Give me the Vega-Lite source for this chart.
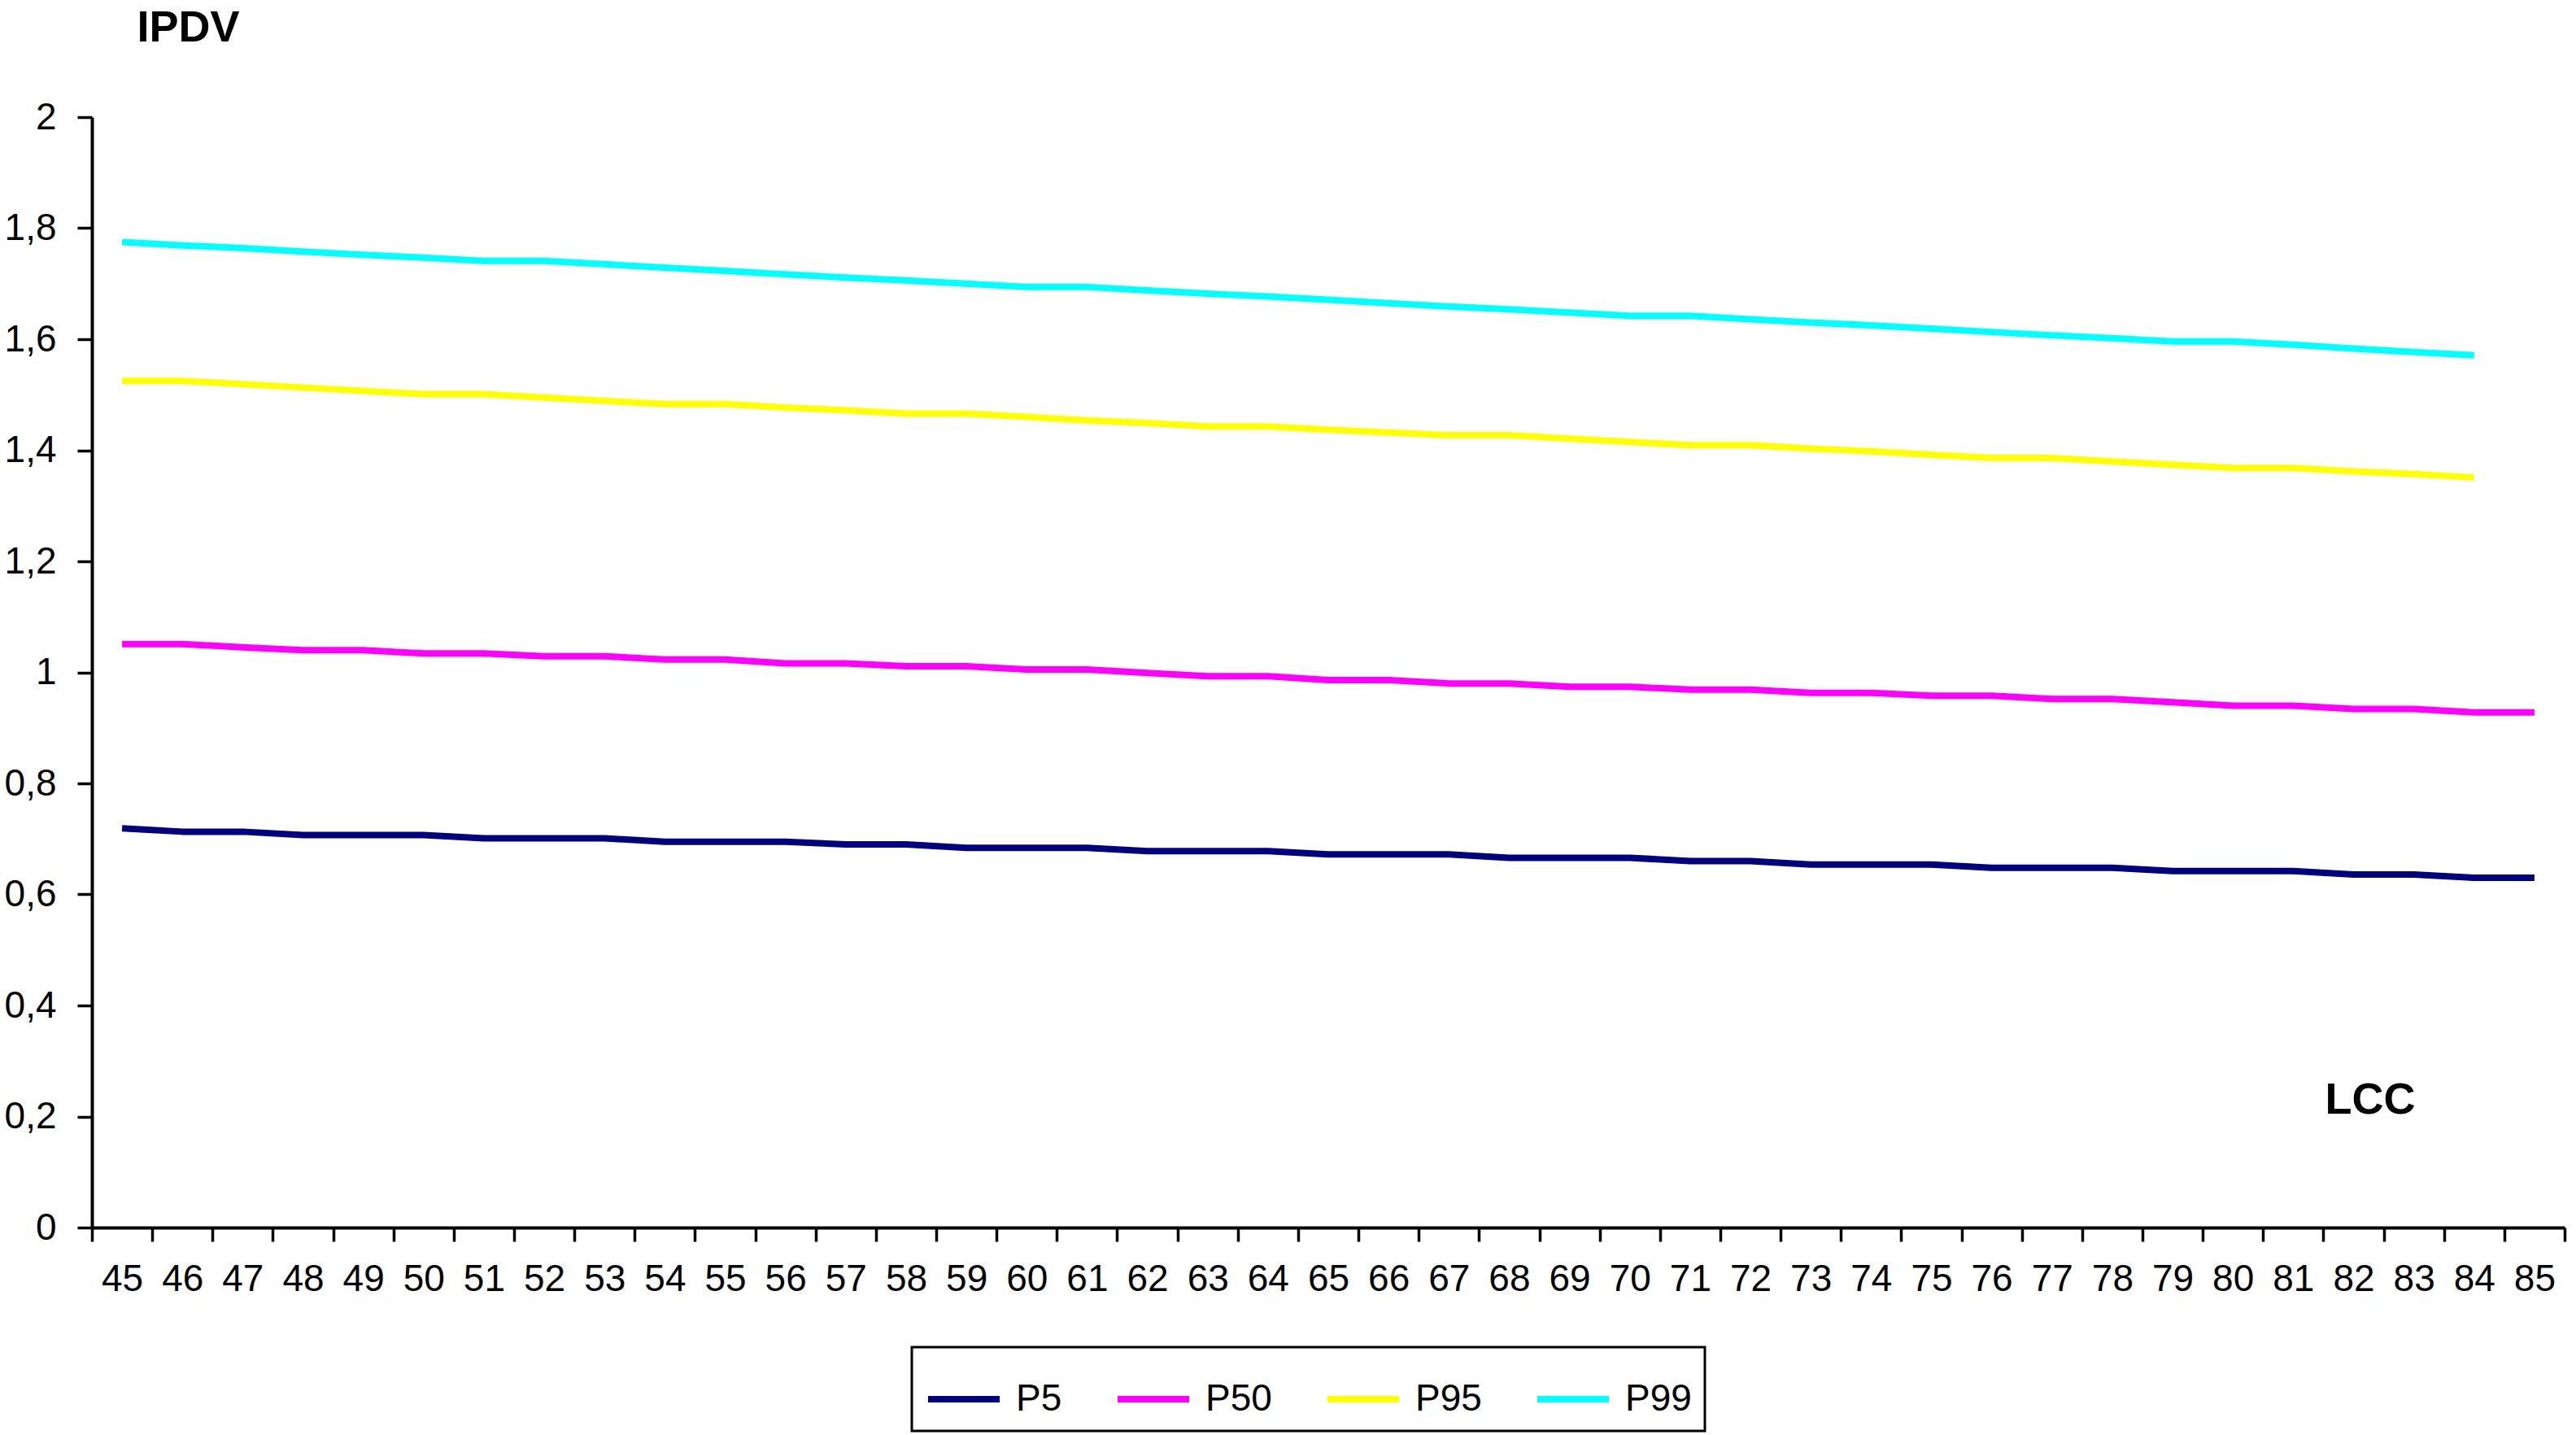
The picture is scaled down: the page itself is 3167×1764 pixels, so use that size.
{
  "$schema": "https://vega.github.io/schema/vega-lite/v6.json",
  "width": 3040,
  "height": 1365,
  "autosize": {"type": "none"},
  "padding": {"left": 113, "top": 144, "right": 14, "bottom": 255},
  "background": "white",
  "config": {
    "view": {"stroke": null},
    "font": "Liberation Sans"
  },
  "data": {
    "values": [
      {"LCC":45,"P":"P5","IPDV":0.719},{"LCC":46,"P":"P5","IPDV":0.713},{"LCC":47,"P":"P5","IPDV":0.713},{"LCC":48,"P":"P5","IPDV":0.707},{"LCC":49,"P":"P5","IPDV":0.707},{"LCC":50,"P":"P5","IPDV":0.707},{"LCC":51,"P":"P5","IPDV":0.701},{"LCC":52,"P":"P5","IPDV":0.701},{"LCC":53,"P":"P5","IPDV":0.701},{"LCC":54,"P":"P5","IPDV":0.695},{"LCC":55,"P":"P5","IPDV":0.695},{"LCC":56,"P":"P5","IPDV":0.695},{"LCC":57,"P":"P5","IPDV":0.690},{"LCC":58,"P":"P5","IPDV":0.690},{"LCC":59,"P":"P5","IPDV":0.684},{"LCC":60,"P":"P5","IPDV":0.684},{"LCC":61,"P":"P5","IPDV":0.684},{"LCC":62,"P":"P5","IPDV":0.678},{"LCC":63,"P":"P5","IPDV":0.678},{"LCC":64,"P":"P5","IPDV":0.678},{"LCC":65,"P":"P5","IPDV":0.672},{"LCC":66,"P":"P5","IPDV":0.672},{"LCC":67,"P":"P5","IPDV":0.672},{"LCC":68,"P":"P5","IPDV":0.666},{"LCC":69,"P":"P5","IPDV":0.666},{"LCC":70,"P":"P5","IPDV":0.666},{"LCC":71,"P":"P5","IPDV":0.660},{"LCC":72,"P":"P5","IPDV":0.660},{"LCC":73,"P":"P5","IPDV":0.654},{"LCC":74,"P":"P5","IPDV":0.654},{"LCC":75,"P":"P5","IPDV":0.654},{"LCC":76,"P":"P5","IPDV":0.648},{"LCC":77,"P":"P5","IPDV":0.648},{"LCC":78,"P":"P5","IPDV":0.648},{"LCC":79,"P":"P5","IPDV":0.642},{"LCC":80,"P":"P5","IPDV":0.642},{"LCC":81,"P":"P5","IPDV":0.642},{"LCC":82,"P":"P5","IPDV":0.636},{"LCC":83,"P":"P5","IPDV":0.636},{"LCC":84,"P":"P5","IPDV":0.630},{"LCC":85,"P":"P5","IPDV":0.630},
      {"LCC":45,"P":"P50","IPDV":1.051},{"LCC":46,"P":"P50","IPDV":1.051},{"LCC":47,"P":"P50","IPDV":1.045},{"LCC":48,"P":"P50","IPDV":1.040},{"LCC":49,"P":"P50","IPDV":1.040},{"LCC":50,"P":"P50","IPDV":1.034},{"LCC":51,"P":"P50","IPDV":1.034},{"LCC":52,"P":"P50","IPDV":1.029},{"LCC":53,"P":"P50","IPDV":1.029},{"LCC":54,"P":"P50","IPDV":1.023},{"LCC":55,"P":"P50","IPDV":1.023},{"LCC":56,"P":"P50","IPDV":1.016},{"LCC":57,"P":"P50","IPDV":1.016},{"LCC":58,"P":"P50","IPDV":1.011},{"LCC":59,"P":"P50","IPDV":1.011},{"LCC":60,"P":"P50","IPDV":1.005},{"LCC":61,"P":"P50","IPDV":1.005},{"LCC":62,"P":"P50","IPDV":0.999},{"LCC":63,"P":"P50","IPDV":0.993},{"LCC":64,"P":"P50","IPDV":0.993},{"LCC":65,"P":"P50","IPDV":0.986},{"LCC":66,"P":"P50","IPDV":0.986},{"LCC":67,"P":"P50","IPDV":0.980},{"LCC":68,"P":"P50","IPDV":0.980},{"LCC":69,"P":"P50","IPDV":0.974},{"LCC":70,"P":"P50","IPDV":0.974},{"LCC":71,"P":"P50","IPDV":0.969},{"LCC":72,"P":"P50","IPDV":0.969},{"LCC":73,"P":"P50","IPDV":0.963},{"LCC":74,"P":"P50","IPDV":0.963},{"LCC":75,"P":"P50","IPDV":0.958},{"LCC":76,"P":"P50","IPDV":0.958},{"LCC":77,"P":"P50","IPDV":0.952},{"LCC":78,"P":"P50","IPDV":0.952},{"LCC":79,"P":"P50","IPDV":0.946},{"LCC":80,"P":"P50","IPDV":0.940},{"LCC":81,"P":"P50","IPDV":0.940},{"LCC":82,"P":"P50","IPDV":0.934},{"LCC":83,"P":"P50","IPDV":0.934},{"LCC":84,"P":"P50","IPDV":0.928},{"LCC":85,"P":"P50","IPDV":0.928},
      {"LCC":45,"P":"P95","IPDV":1.525},{"LCC":46,"P":"P95","IPDV":1.525},{"LCC":47,"P":"P95","IPDV":1.519},{"LCC":48,"P":"P95","IPDV":1.513},{"LCC":49,"P":"P95","IPDV":1.507},{"LCC":50,"P":"P95","IPDV":1.501},{"LCC":51,"P":"P95","IPDV":1.501},{"LCC":52,"P":"P95","IPDV":1.495},{"LCC":53,"P":"P95","IPDV":1.489},{"LCC":54,"P":"P95","IPDV":1.483},{"LCC":55,"P":"P95","IPDV":1.483},{"LCC":56,"P":"P95","IPDV":1.477},{"LCC":57,"P":"P95","IPDV":1.472},{"LCC":58,"P":"P95","IPDV":1.466},{"LCC":59,"P":"P95","IPDV":1.466},{"LCC":60,"P":"P95","IPDV":1.460},{"LCC":61,"P":"P95","IPDV":1.454},{"LCC":62,"P":"P95","IPDV":1.449},{"LCC":63,"P":"P95","IPDV":1.443},{"LCC":64,"P":"P95","IPDV":1.443},{"LCC":65,"P":"P95","IPDV":1.437},{"LCC":66,"P":"P95","IPDV":1.432},{"LCC":67,"P":"P95","IPDV":1.427},{"LCC":68,"P":"P95","IPDV":1.427},{"LCC":69,"P":"P95","IPDV":1.421},{"LCC":70,"P":"P95","IPDV":1.415},{"LCC":71,"P":"P95","IPDV":1.409},{"LCC":72,"P":"P95","IPDV":1.409},{"LCC":73,"P":"P95","IPDV":1.403},{"LCC":74,"P":"P95","IPDV":1.398},{"LCC":75,"P":"P95","IPDV":1.392},{"LCC":76,"P":"P95","IPDV":1.386},{"LCC":77,"P":"P95","IPDV":1.386},{"LCC":78,"P":"P95","IPDV":1.380},{"LCC":79,"P":"P95","IPDV":1.374},{"LCC":80,"P":"P95","IPDV":1.368},{"LCC":81,"P":"P95","IPDV":1.368},{"LCC":82,"P":"P95","IPDV":1.362},{"LCC":83,"P":"P95","IPDV":1.357},{"LCC":84,"P":"P95","IPDV":1.351},
      {"LCC":45,"P":"P99","IPDV":1.775},{"LCC":46,"P":"P99","IPDV":1.769},{"LCC":47,"P":"P99","IPDV":1.764},{"LCC":48,"P":"P99","IPDV":1.758},{"LCC":49,"P":"P99","IPDV":1.752},{"LCC":50,"P":"P99","IPDV":1.747},{"LCC":51,"P":"P99","IPDV":1.741},{"LCC":52,"P":"P99","IPDV":1.741},{"LCC":53,"P":"P99","IPDV":1.735},{"LCC":54,"P":"P99","IPDV":1.729},{"LCC":55,"P":"P99","IPDV":1.723},{"LCC":56,"P":"P99","IPDV":1.717},{"LCC":57,"P":"P99","IPDV":1.711},{"LCC":58,"P":"P99","IPDV":1.706},{"LCC":59,"P":"P99","IPDV":1.700},{"LCC":60,"P":"P99","IPDV":1.694},{"LCC":61,"P":"P99","IPDV":1.694},{"LCC":62,"P":"P99","IPDV":1.688},{"LCC":63,"P":"P99","IPDV":1.682},{"LCC":64,"P":"P99","IPDV":1.677},{"LCC":65,"P":"P99","IPDV":1.671},{"LCC":66,"P":"P99","IPDV":1.665},{"LCC":67,"P":"P99","IPDV":1.659},{"LCC":68,"P":"P99","IPDV":1.654},{"LCC":69,"P":"P99","IPDV":1.648},{"LCC":70,"P":"P99","IPDV":1.642},{"LCC":71,"P":"P99","IPDV":1.642},{"LCC":72,"P":"P99","IPDV":1.636},{"LCC":73,"P":"P99","IPDV":1.630},{"LCC":74,"P":"P99","IPDV":1.625},{"LCC":75,"P":"P99","IPDV":1.619},{"LCC":76,"P":"P99","IPDV":1.613},{"LCC":77,"P":"P99","IPDV":1.607},{"LCC":78,"P":"P99","IPDV":1.602},{"LCC":79,"P":"P99","IPDV":1.596},{"LCC":80,"P":"P99","IPDV":1.596},{"LCC":81,"P":"P99","IPDV":1.590},{"LCC":82,"P":"P99","IPDV":1.583},{"LCC":83,"P":"P99","IPDV":1.577},{"LCC":84,"P":"P99","IPDV":1.571}
    ]
  },
  "mark": {"type": "line", "strokeWidth": 8, "strokeJoin": "round", "strokeCap": "butt"},
  "encoding": {
    "x": {
      "field": "LCC",
      "type": "ordinal",
      "scale": {"type": "band", "paddingInner": 0, "paddingOuter": 0},
      "axis": {
        "title": "LCC",
        "titleFont": "Liberation Sans",
        "titleFontSize": 54,
        "titleFontWeight": "bold",
        "titleColor": "black",
        "titleAlign": "left",
        "titleBaseline": "alphabetic",
        "titleAnchor": null,
        "titleX": 2745,
        "titleY": -141,
        "labelAngle": 0,
        "labelFont": "Liberation Sans",
        "labelFontSize": 46,
        "labelColor": "black",
        "labelPadding": 24,
        "labelOverlap": false,
        "tickBand": "extent",
        "tickSize": 17,
        "tickWidth": 3.5,
        "tickColor": "black",
        "domainColor": "black",
        "domainWidth": 4,
        "grid": false
      }
    },
    "y": {
      "field": "IPDV",
      "type": "quantitative",
      "scale": {"domain": [0, 2], "nice": false, "zero": true},
      "axis": {
        "title": "IPDV",
        "titleFont": "Liberation Sans",
        "titleFontSize": 54,
        "titleFontWeight": "bold",
        "titleColor": "black",
        "titleAngle": 0,
        "titleAlign": "left",
        "titleBaseline": "alphabetic",
        "titleAnchor": null,
        "titleX": 55,
        "titleY": -94,
        "values": [0, 0.2, 0.4, 0.6, 0.8, 1, 1.2, 1.4, 1.6, 1.8, 2],
        "labelExpr": "replace(format(datum.value, '.1~f'), '.', ',')",
        "labelFont": "Liberation Sans",
        "labelFontSize": 46,
        "labelColor": "black",
        "labelPadding": 26,
        "tickSize": 18,
        "tickWidth": 3.5,
        "tickColor": "black",
        "domainColor": "black",
        "domainWidth": 4,
        "grid": false
      }
    },
    "color": {
      "field": "P",
      "type": "nominal",
      "sort": ["P5", "P50", "P95", "P99"],
      "scale": {"domain": ["P5", "P50", "P95", "P99"], "range": ["#000080", "#FF00FF", "#FFFF00", "#00FFFF"]},
      "legend": {
        "title": null,
        "orient": "none",
        "legendX": 1008,
        "legendY": 1512,
        "direction": "horizontal",
        "symbolType": "stroke",
        "symbolSize": 7744,
        "symbolStrokeWidth": 8,
        "labelFont": "Liberation Sans",
        "labelFontSize": 46,
        "labelColor": "black",
        "labelOffset": 16,
        "columnPadding": 52,
        "padding": 16,
        "strokeColor": "black",
        "fillColor": "white",
        "cornerRadius": 0,
        "encode": {"legend": {"update": {"strokeWidth": {"value": 3}}}}
      }
    }
  }
}
